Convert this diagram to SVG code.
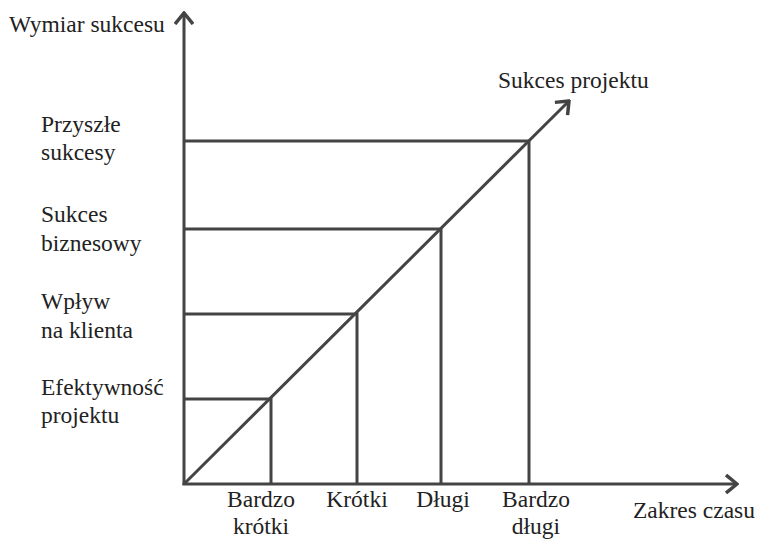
<svg xmlns="http://www.w3.org/2000/svg" width="762" height="540" viewBox="0 0 762 540">
<style>
.ln{stroke:#444;stroke-width:3;fill:none;stroke-linecap:butt}
text{font-family:'Liberation Serif',Tinos,'Times New Roman',Times,'DejaVu Serif',serif;font-size:23.5px;fill:#222}
.c{text-anchor:middle}
</style>
<defs>
<marker id="ar" viewBox="0 0 14 20" refX="12" refY="10" markerWidth="14" markerHeight="20" markerUnits="userSpaceOnUse" orient="auto">
<path d="M1,1 L12,10 L1,19" fill="none" stroke="#444" stroke-width="3.5"/>
</marker>
</defs>
<rect width="762" height="540" fill="#fff"/>
<g id="connectors">
<line class="ln" x1="184" y1="485" x2="184" y2="13" marker-end="url(#ar)"/>
<line class="ln" x1="182.5" y1="484" x2="737" y2="484" marker-end="url(#ar)"/>
<line class="ln" x1="185" y1="483" x2="569" y2="101" marker-end="url(#ar)"/>
<polyline class="ln" points="184,399 271,399 271,484"/>
<polyline class="ln" points="184,314 357,314 357,484"/>
<polyline class="ln" points="184,229 441,229 441,484"/>
<polyline class="ln" points="184,141 529,141 529,484"/>
</g>
<g id="axis-y-label"><text x="9" y="32">Wymiar sukcesu</text></g>
<g id="axis-x-label"><text x="633" y="518">Zakres czasu</text></g>
<g id="diag-label"><text x="498" y="88">Sukces projektu</text></g>
<g id="y-przyszle"><text x="41" y="132">Przyszłe</text><text x="41" y="160">sukcesy</text></g>
<g id="y-sukces"><text x="41" y="222">Sukces</text><text x="41" y="251">biznesowy</text></g>
<g id="y-wplyw"><text x="41" y="309">Wpływ</text><text x="41" y="338">na klienta</text></g>
<g id="y-efekt"><text x="41" y="395">Efektywność</text><text x="41" y="423">projektu</text></g>
<g id="x-bk"><text class="c" x="261" y="507">Bardzo</text><text class="c" x="261" y="534">krótki</text></g>
<g id="x-k"><text class="c" x="357" y="507">Krótki</text></g>
<g id="x-d"><text class="c" x="443" y="507">Długi</text></g>
<g id="x-bd"><text class="c" x="536" y="507">Bardzo</text><text class="c" x="536" y="534">długi</text></g>
</svg>
